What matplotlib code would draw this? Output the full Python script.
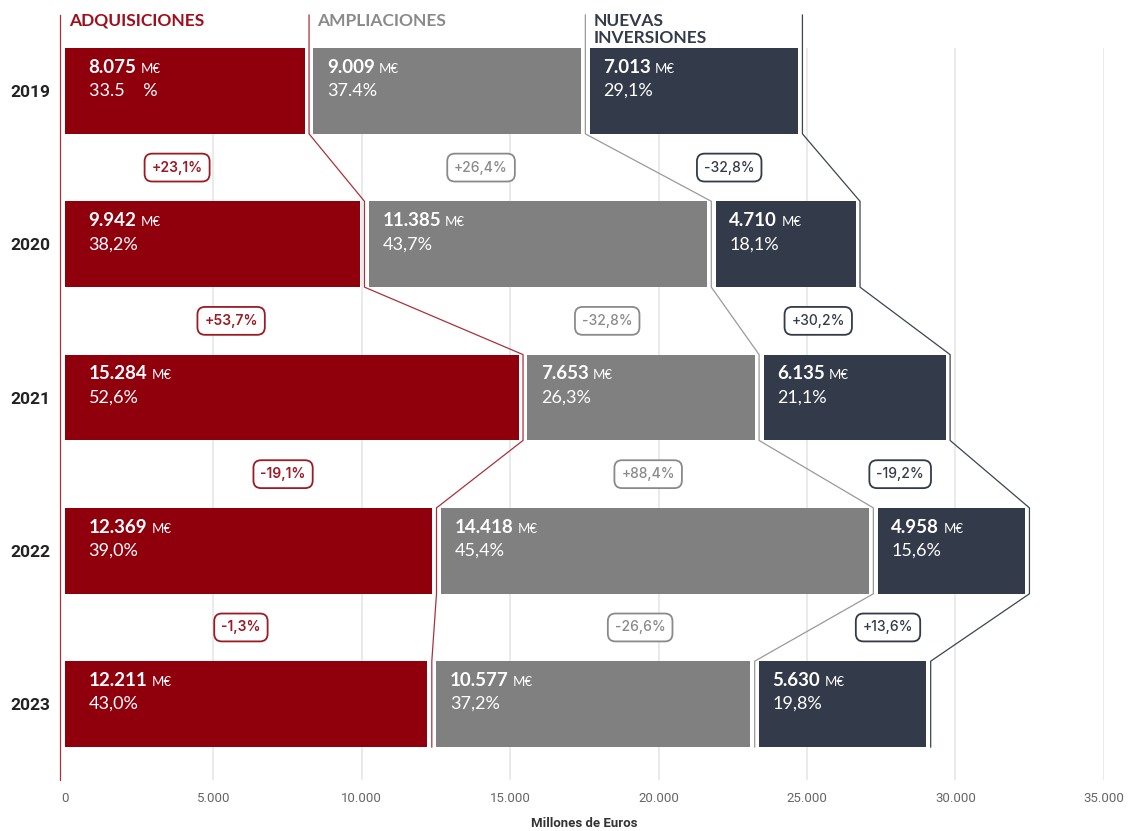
import matplotlib.pyplot as plt

years = ["2019", "2020", "2021", "2022", "2023"]
categories = ["ADQUISICIONES", "AMPLIACIONES", "NUEVAS\nINVERSIONES"]

adquisiciones = [8075, 9942, 15284, 12369, 12211]
ampliaciones = [9009, 11385, 7653, 14418, 10577]
nuevas = [7013, 4710, 6135, 4958, 5630]

pct_adq = ["33.5    %", "38,2%", "52,6%", "39,0%", "43,0%"]
pct_amp = ["37.4%", "43,7%", "26,3%", "45,4%", "37,2%"]
pct_nue = ["29,1%", "18,1%", "21,1%", "15,6%", "19,8%"]

var_adq = ["+23,1%", "+53,7%", "-19,1%", "-1,3%"]
var_amp = ["+26,4%", "-32,8%", "+88,4%", "-26,6%"]
var_nue = ["-32,8%", "+30,2%", "-19,2%", "+13,6%"]

# where the year-on-year boxes sit along the axis
var_x = [[3780, 5600, 7350, 5930],
         [14020, 18270, 19650, 19380],
         [22380, 25380, 28140, 27730]]

series = [adquisiciones, ampliaciones, nuevas]
pcts = [pct_adq, pct_amp, pct_nue]
variations = [var_adq, var_amp, var_nue]

bar_colors = ["#8f000c", "#808080", "#333a4a"]
line_colors = ["#a8323c", "#9a9a9a", "#3d4353"]
head_colors = ["#a00d1b", "#8a8a8a", "#333a4a"]
box_colors = ["#9b1b25", "#8a8a8a", "#333a4a"]
text_pad = [17, 9.7, 9.7]

gap = 300
h = 0.56
y_top, y_bot = -0.28, 4.495
line_top = -0.495

fig = plt.figure(figsize=(11.28, 8.31), dpi=100)
ax = fig.add_axes([64.9 / 1128, 51 / 831, (1103.8 - 64.9) / 1128, 732 / 831])
ax.set_xlim(0, 35000)
ax.set_ylim(y_bot, y_top)
for s in ax.spines.values():
    s.set_visible(False)

ax.vlines(range(5000, 35001, 5000), y_top, y_bot, colors="#e6e6e6", lw=1.2, zorder=0)

# stacked segments with a small gap between them
lefts = []
cum = [0] * len(years)
for k, vals in enumerate(series):
    lf = [cum[i] + k * gap for i in range(len(years))]
    lefts.append(lf)
    ax.barh(range(len(years)), vals, left=lf, height=h, color=bar_colors[k],
            edgecolor="none", zorder=2)
    cum = [cum[i] + vals[i] for i in range(len(years))]

    for i, v in enumerate(vals):
        t = ax.annotate(f"{v:,}".replace(",", "."), xy=(lf[i], i),
                        xytext=(text_pad[k], 13), textcoords="offset points",
                        ha="left", va="baseline", color="white", fontsize=13.5,
                        fontweight="bold", family="Lato", zorder=4)
        ax.annotate("M€", xy=(1, 0), xycoords=t, xytext=(3, 0.8),
                    textcoords="offset points", ha="left", va="bottom",
                    color="white", fontsize=9.5, family="Lato", zorder=4)
        ax.annotate(pcts[k][i], xy=(lf[i], i), xytext=(text_pad[k], -3.6),
                    textcoords="offset points", ha="left", va="baseline",
                    color="white", fontsize=13, family="Lato", zorder=4)

# boundary lines running down between the segments
ax.plot([-gap / 2, -gap / 2], [line_top, y_bot], color=line_colors[0],
        lw=0.9, clip_on=False, zorder=3)
bounds = []
for k, vals in enumerate(series):
    xs, ys = [], []
    for i, v in enumerate(vals):
        xr = lefts[k][i] + v + gap / 2
        xs += [xr, xr]
        ys += [line_top if i == 0 else i - h / 2, i + h / 2]
    bounds.append(xs[0])
    ax.plot(xs, ys, color=line_colors[k], lw=0.9, clip_on=False, zorder=3)

head_x = [-gap / 2] + bounds[:2]
for k, name in enumerate(categories):
    ax.annotate(name, xy=(head_x[k], line_top), xytext=(6, 1.5),
                textcoords="offset points", ha="left", va="top",
                color=head_colors[k], fontsize=12.5, fontweight="bold",
                family="Lato", linespacing=1.05, annotation_clip=False)

# year-on-year change boxes
for k, labels in enumerate(variations):
    for i, lab in enumerate(labels):
        ax.text(var_x[k][i], i + 0.5, lab, ha="center", va="center",
                fontsize=10, family="Inter",
                fontweight="semibold" if k == 0 else "medium",
                color=box_colors[k], zorder=5,
                bbox=dict(boxstyle="round,pad=0.5,rounding_size=0.55",
                          fc="white", ec=box_colors[k], lw=1.3))

ax.set_xticks(range(0, 35001, 5000))
ax.set_xticklabels([f"{x:,}".replace(",", ".") for x in range(0, 35001, 5000)],
                   family="Roboto", fontsize=9.5, color="#666666")
ax.set_yticks(range(len(years)))
ax.set_yticklabels(years, family="Roboto", fontsize=12.5, fontweight="bold",
                   color="#222222")
ax.tick_params(axis="x", length=0, pad=9)
ax.tick_params(axis="y", length=0, pad=10.5)
ax.set_xlabel("Millones de Euros", family="Roboto", fontsize=9.5,
              fontweight="bold", color="#333333", labelpad=8)

fig.savefig("out.png", dpi=100)
